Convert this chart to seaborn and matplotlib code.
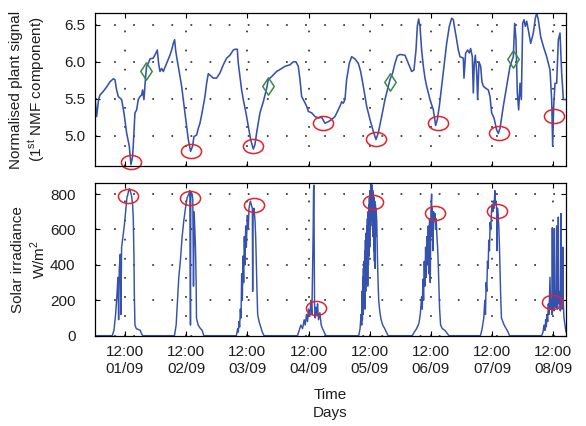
import matplotlib
matplotlib.use("Agg")
import matplotlib.pyplot as plt
from matplotlib.path import Path
from matplotlib.transforms import Affine2D
import seaborn as sns

# ---------------------------------------------------------------
# data (time in hours from 01/09 00:00)
# ---------------------------------------------------------------
signal_hours = [
    0.23, 0.89, 1.67, 2.19, 3.50, 4.81, 6.12, 7.42, 8.08, 8.73, 9.39, 10.69,
    11.61, 12.65, 13.70, 14.35, 15.01, 15.53, 15.92, 16.58, 17.23, 17.88,
    18.54, 18.93, 19.45, 20.11, 20.50, 21.41, 21.81, 23.11, 24.16, 24.68,
    25.20, 25.73, 26.38, 27.04, 28.34, 29.65, 30.30, 30.96, 31.48, 31.87,
    32.26, 32.92, 34.23, 34.88, 35.53, 36.19, 36.84, 37.75, 38.54, 39.06,
    40.11, 40.76, 41.42, 42.07, 42.72, 43.38, 44.03, 44.69, 45.34, 46.65,
    47.95, 49.26, 50.57, 51.88, 53.18, 54.49, 55.14, 56.06, 56.45, 57.11,
    57.76, 58.41, 59.46, 60.37, 61.29, 62.33, 62.99, 63.64, 64.95, 66.26,
    67.56, 68.22, 69.53, 71.49, 73.45, 74.76, 76.72, 78.02, 79.07, 79.98,
    80.64, 81.29, 81.95, 83.26, 83.91, 85.22, 86.53, 87.83, 89.14, 90.44,
    91.75, 93.06, 94.37, 96.33, 96.98, 97.64, 98.29, 98.94, 99.99, 100.90,
    102.21, 103.52, 104.43, 105.48, 106.79, 108.09, 109.40, 110.45, 111.36,
    112.67, 113.98, 115.28, 115.94, 116.98, 117.90, 118.81, 119.86, 121.82,
    123.13, 124.44, 125.35, 126.14, 126.66, 127.18, 127.71, 128.36, 129.02,
    129.67, 130.32, 130.98, 131.63, 132.94, 133.85, 134.51, 135.29, 136.20,
    137.12, 138.17, 139.21, 140.13, 140.78, 141.43, 142.09, 142.74, 143.39,
    144.70, 144.96, 145.62, 146.40, 147.05, 147.57, 148.23, 148.62, 149.01,
    149.41, 149.93, 150.32, 150.85, 151.50, 152.02, 152.55, 153.59, 154.51,
    155.16, 155.81, 156.73, 157.78, 158.43, 159.09, 160.39, 161.70, 163.01,
    164.31, 164.84, 165.36, 165.88, 166.41, 166.93, 167.45, 167.98, 168.50,
    169.02, 169.55, 170.20, 171.12, 172.16, 172.94, 173.47, 174.12, 175.04,
    176.08, 177.39, 178.70, 179.35, 179.74, 180.14, 180.66, 181.31, 181.97,
    182.62, 183.27, 183.93, 184.98,
]
signal_values = [
    5.53, 5.26, 5.49, 5.55, 5.60, 5.66, 5.73, 5.77, 5.76, 5.62, 5.53, 5.49,
    5.31, 5.04, 4.86, 4.61, 4.72, 5.04, 5.31, 5.35, 5.49, 5.53,
    5.55, 5.62, 5.49, 5.80, 5.94, 6.00, 6.04, 6.05, 6.12, 6.16,
    5.98, 5.87, 5.91, 5.87, 5.98, 6.09, 6.16, 6.25, 6.30, 6.16,
    6.07, 5.94, 5.67, 5.49, 5.31, 5.13, 4.95, 4.79, 4.86, 4.99,
    5.01, 5.10, 5.17, 5.28, 5.40, 5.53, 5.71, 5.84, 5.82, 5.78,
    5.78, 5.85, 5.96, 6.05, 6.09, 6.16, 6.17, 6.17, 5.98, 5.80,
    5.62, 5.49, 5.31, 5.13, 4.95, 4.82, 4.88, 5.04, 5.31, 5.46,
    5.64, 5.76, 5.80, 5.87, 5.91, 5.94, 5.96, 6.00, 6.00, 5.94,
    5.76, 5.53, 5.49, 5.40, 5.33, 5.31, 5.26, 5.24, 5.25, 5.17,
    5.19, 5.22, 5.26, 5.40, 5.46, 5.44, 5.49, 5.76, 5.98, 6.07,
    6.04, 5.98, 5.87, 5.67, 5.40, 5.22, 5.06, 4.95, 5.04,
    5.26, 5.49, 5.67, 5.76, 5.85, 5.98, 6.08, 6.10, 6.09,
    5.98, 5.87, 5.89, 6.16, 6.48, 6.58, 6.48, 6.16, 5.94,
    5.78, 5.67, 5.58, 5.49, 5.35, 5.14, 5.22, 5.40, 5.67,
    5.94, 6.25, 6.48, 6.59, 6.57, 6.43, 6.30, 6.16, 6.07,
    6.05, 5.78, 6.12, 6.16, 6.12, 6.18, 6.07, 5.58, 5.98,
    6.09, 5.87, 5.49, 6.00, 5.94, 5.73, 5.67, 5.64, 5.62,
    5.53, 5.31, 5.24, 5.08, 5.03, 5.10, 5.40, 5.67, 5.94,
    6.07, 6.52, 6.30, 5.58, 5.35, 5.71, 5.49, 6.52, 6.57,
    6.48, 6.55, 6.43, 6.25, 6.39, 6.59, 6.66, 6.57, 6.34,
    6.21, 6.07, 5.89, 5.49, 4.86, 5.40, 5.71, 5.71, 6.30,
    6.39, 5.85, 5.49, 5.49,
]

# daily minima (red) and turning points (green) of the plant signal
signal_min_hours = [14.35, 38.1, 62.33, 89.5, 110.45, 134.6, 158.8, 180.3]
signal_min_values = [4.65, 4.80, 4.86, 5.17, 4.95, 5.17, 5.04, 5.27]
turn_hours = [20.11, 68.2, 115.9, 164.3]
turn_values = [5.88, 5.67, 5.73, 6.04]

irr_hours = [
    0.2,
    # 01/09
    7.03, 7.69, 8.34, 8.86, 9.25, 9.52, 9.78, 10.17, 10.43, 10.69, 11.22,
    11.74, 12.26, 12.78, 13.18, 13.44, 13.83, 14.22, 14.61, 15.01, 15.27,
    15.53, 15.66, 15.92, 16.45, 17.23, 18.01, 18.54, 19.06,
    # 02/09
    31.42, 32.08, 32.60, 33.12, 33.78, 34.43, 35.08, 35.74, 36.39, 37.05,
    37.44, 37.70, 37.83, 38.35, 38.61, 38.88, 39.14, 39.40, 39.66, 39.92,
    40.05, 40.71, 41.62, 42.28, 42.93,
    # 03/09
    55.69, 56.21, 56.47, 56.73, 56.99, 57.25, 57.52, 57.78, 58.04, 58.30,
    58.56, 58.82, 59.08, 59.35, 59.61, 60.00, 60.39, 60.65, 61.18, 61.57,
    61.96, 62.09, 62.22, 62.61, 63.01, 63.27, 63.53, 63.79, 64.05, 64.58,
    65.23, 65.88, 66.54,
    # 04/09
    79.69, 80.34, 80.99, 81.65, 82.30, 82.69, 83.22, 83.61, 84.00, 84.52,
    84.92, 85.31, 85.57, 85.83, 85.96, 86.09, 86.22, 86.35, 86.61, 86.88,
    87.27, 87.53, 87.92, 88.45, 88.97, 89.49, 90.14, 90.80,
    # 05/09
    103.69, 104.21, 104.60, 104.86, 104.99, 105.12, 105.25, 105.39, 105.52,
    105.65, 105.78, 105.91, 106.04, 106.17, 106.30, 106.43, 106.56, 106.69,
    106.82, 106.95, 107.08, 107.22, 107.35, 107.48, 107.61, 107.74, 107.87,
    108.00, 108.13, 108.26, 108.39, 108.52, 108.65, 108.78, 108.92, 109.05,
    109.18, 109.31, 109.44, 109.57, 109.70, 109.83, 109.96, 110.09, 110.22,
    110.35, 110.48, 110.75, 111.01, 111.27, 111.53, 111.92, 112.45, 113.10,
    113.88, 114.54, 115.19,
    # 06/09
    124.68, 125.46, 126.38, 127.29, 127.82, 128.34, 128.60, 128.86, 129.12,
    129.39, 129.65, 129.91, 130.17, 130.43, 130.69, 130.95, 131.22, 131.48,
    131.74, 132.00, 132.26, 132.39, 132.52, 132.78, 133.05, 133.31, 133.57,
    133.83, 134.09, 134.35, 134.61, 134.88, 135.14, 135.40, 135.79, 136.45,
    137.49, 138.54, 139.06,
    # 07/09
    151.42, 152.08, 152.73, 153.12, 153.39, 153.65, 153.91, 154.17, 154.43,
    154.69, 154.95, 155.22, 155.48, 155.74, 156.00, 156.26, 156.52, 156.78,
    157.05, 157.31, 157.57, 157.83, 157.96, 158.09, 158.35, 158.61, 158.88,
    159.14, 159.40, 159.66, 160.18, 160.71, 161.49, 162.28, 162.80,
    # 08/09
    175.42, 175.95, 176.34, 176.73, 176.99, 177.25, 177.52, 177.78, 178.04,
    178.30, 178.69, 178.95, 179.22, 179.48, 179.61, 179.74, 180.00, 180.26,
    180.39, 180.52, 180.78, 181.05, 181.31, 181.44, 181.70, 181.96, 182.09,
    182.35, 182.61, 182.75, 183.01, 183.14, 183.40, 183.79, 183.92, 184.18,
    184.58, 184.97,
]
irr_values = [
    0,
    # 01/09
    0, 30, 120, 230, 330, 90, 380, 460, 120, 500, 560,
    620, 700, 780, 800, 820, 830, 810, 790, 740, 660,
    450, 250, 60, 40, 35, 30, 10, 0,
    # 02/09
    0, 60, 200, 330, 430, 560, 650, 720, 780, 800,
    820, 60, 810, 800, 770, 280, 700, 600, 500, 300,
    100, 60, 40, 30, 0,
    # 03/09
    0, 40, 20, 80, 50, 150, 100, 350, 200, 450,
    300, 560, 400, 620, 500, 680, 600, 720, 760, 740,
    720, 250, 700, 720, 650, 560, 400, 250, 120, 80,
    50, 20, 0,
    # 04/09
    0, 30, 60, 40, 90, 60, 120, 80, 150, 110,
    200, 120, 350, 600, 820, 850, 500, 180, 100, 160,
    120, 180, 90, 130, 60, 40, 20, 0,
    # 05/09
    0, 40, 120, 60, 250, 90, 330, 120, 380,
    160, 420, 200, 480, 150, 540, 250, 580, 300,
    620, 350, 660, 280, 700, 400, 740, 450, 780,
    500, 820, 600, 860, 650, 880, 700, 850, 620,
    820, 560, 800, 480, 780, 420, 760, 380, 740,
    560, 720, 650, 450, 300, 200, 140, 90, 60,
    40, 20, 0,
    # 06/09
    0, 20, 40, 70, 120, 220, 150, 320, 200,
    420, 280, 500, 330, 560, 400, 620, 350, 660,
    300, 700, 800, 560, 720, 480, 700, 650, 690,
    600, 660, 560, 500, 400, 280, 150, 60, 40,
    30, 10, 0,
    # 07/09
    0, 40, 100, 200, 120, 300, 250, 420, 380,
    540, 480, 640, 600, 700, 740, 700, 760, 720,
    820, 740, 760, 700, 480, 720, 680, 620, 500,
    350, 200, 100, 80, 60, 40, 20, 0,
    # 08/09
    0, 20, 60, 30, 90, 50, 120, 80, 180,
    120, 330, 150, 200, 120, 610, 150, 220, 140,
    600, 180, 250, 160, 620, 200, 150, 670, 220,
    180, 250, 140, 690, 200, 150, 500, 180, 100,
    60, 20,
]

# daily maxima of irradiance (red)
irr_max_hours = [13.3, 37.7, 62.6, 86.9, 109.3, 133.6, 158.1, 179.6]
irr_max_values = [791, 777, 740, 158, 755, 692, 706, 192]

tick_hours = [12, 36, 60, 84, 108, 132, 156, 180]
tick_labels = ["12:00\n01/09", "12:00\n02/09", "12:00\n03/09", "12:00\n04/09",
               "12:00\n05/09", "12:00\n06/09", "12:00\n07/09", "12:00\n08/09"]

# ---------------------------------------------------------------
# style
# ---------------------------------------------------------------
sns.set_style("ticks")
plt.rcParams["font.family"] = ["Liberation Sans", "DejaVu Sans"]
plt.rcParams["mathtext.fontset"] = "custom"
plt.rcParams["mathtext.rm"] = "Liberation Sans"
plt.rcParams["font.size"] = 11

LINE_BLUE = "#3652ad"
RED = "#e52228"
GREEN = "#3a8a46"
TEXT = "#1e1e1e"

ellipse = Path.unit_circle().transformed(Affine2D().scale(1.0, 0.7))
diamond = Path([(0, 1), (0.66, 0), (0, -1), (-0.66, 0), (0, 1)],
               [Path.MOVETO, Path.LINETO, Path.LINETO, Path.LINETO, Path.CLOSEPOLY])

fig = plt.figure(figsize=(5.86, 4.26), dpi=100)
ax1 = fig.add_axes([0.162, 0.611, 0.804, 0.358])
ax2 = fig.add_axes([0.162, 0.212, 0.804, 0.359])

# top: plant signal
sns.lineplot(x=signal_hours, y=signal_values, ax=ax1, color=LINE_BLUE,
             linewidth=1.15, sort=False, estimator=None)
ax1.plot(signal_min_hours, signal_min_values, linestyle="none", marker=ellipse,
         ms=14.5, mfc="none", mec=RED, mew=1.1, clip_on=False)
ax1.plot(turn_hours, turn_values, linestyle="none", marker=diamond,
         ms=12.5, mfc="none", mec=GREEN, mew=1.1)

# bottom: solar irradiance
sns.lineplot(x=irr_hours, y=irr_values, ax=ax2, color=LINE_BLUE,
             linewidth=1.05, sort=False, estimator=None)
ax2.plot(irr_max_hours, irr_max_values, linestyle="none", marker=ellipse,
         ms=14.5, mfc="none", mec=RED, mew=1.1, clip_on=False)

for ax in (ax1, ax2):
    ax.set_xlim(0.23, 185)
    ax.set_xticks(tick_hours)
    ax.grid(True, linestyle=(0, (1, 10)), color="#333333", linewidth=1.25)
    ax.tick_params(direction="in", top=True, right=True, length=3.5,
                   width=0.8, colors="black", labelsize=11)
    for sp in ax.spines.values():
        sp.set_visible(True)
        sp.set_color("black")
        sp.set_linewidth(0.9)

ax1.set_ylim(4.595, 6.658)
ax1.set_yticks([5.0, 5.5, 6.0, 6.5])
ax1.set_yticklabels(["5.0", "5.5", "6.0", "6.5"], color=TEXT)
ax1.set_xticklabels([])
ax1.tick_params(axis="y", pad=7)
ax1.set_ylabel("Normalised plant signal\n(1$^{\\mathrm{st}}$ NMF component)",
               color=TEXT)
ax1.yaxis.set_label_coords(-0.10, 0.5)

ax2.set_ylim(0, 864)
ax2.set_yticks([0, 200, 400, 600, 800])
ax2.set_yticklabels(["0", "200", "400", "600", "800"], color=TEXT)
ax2.set_xticklabels(tick_labels, color=TEXT)
ax2.tick_params(axis="y", pad=14)
ax2.tick_params(axis="x", pad=7)
ax2.set_ylabel("Solar irradiance\nW/m$^{2}$", color=TEXT)
ax2.yaxis.set_label_coords(-0.10, 0.5)
ax2.set_xlabel("Time\nDays", color=TEXT, labelpad=9, linespacing=1.35)

fig.savefig("out.png", dpi=100)
